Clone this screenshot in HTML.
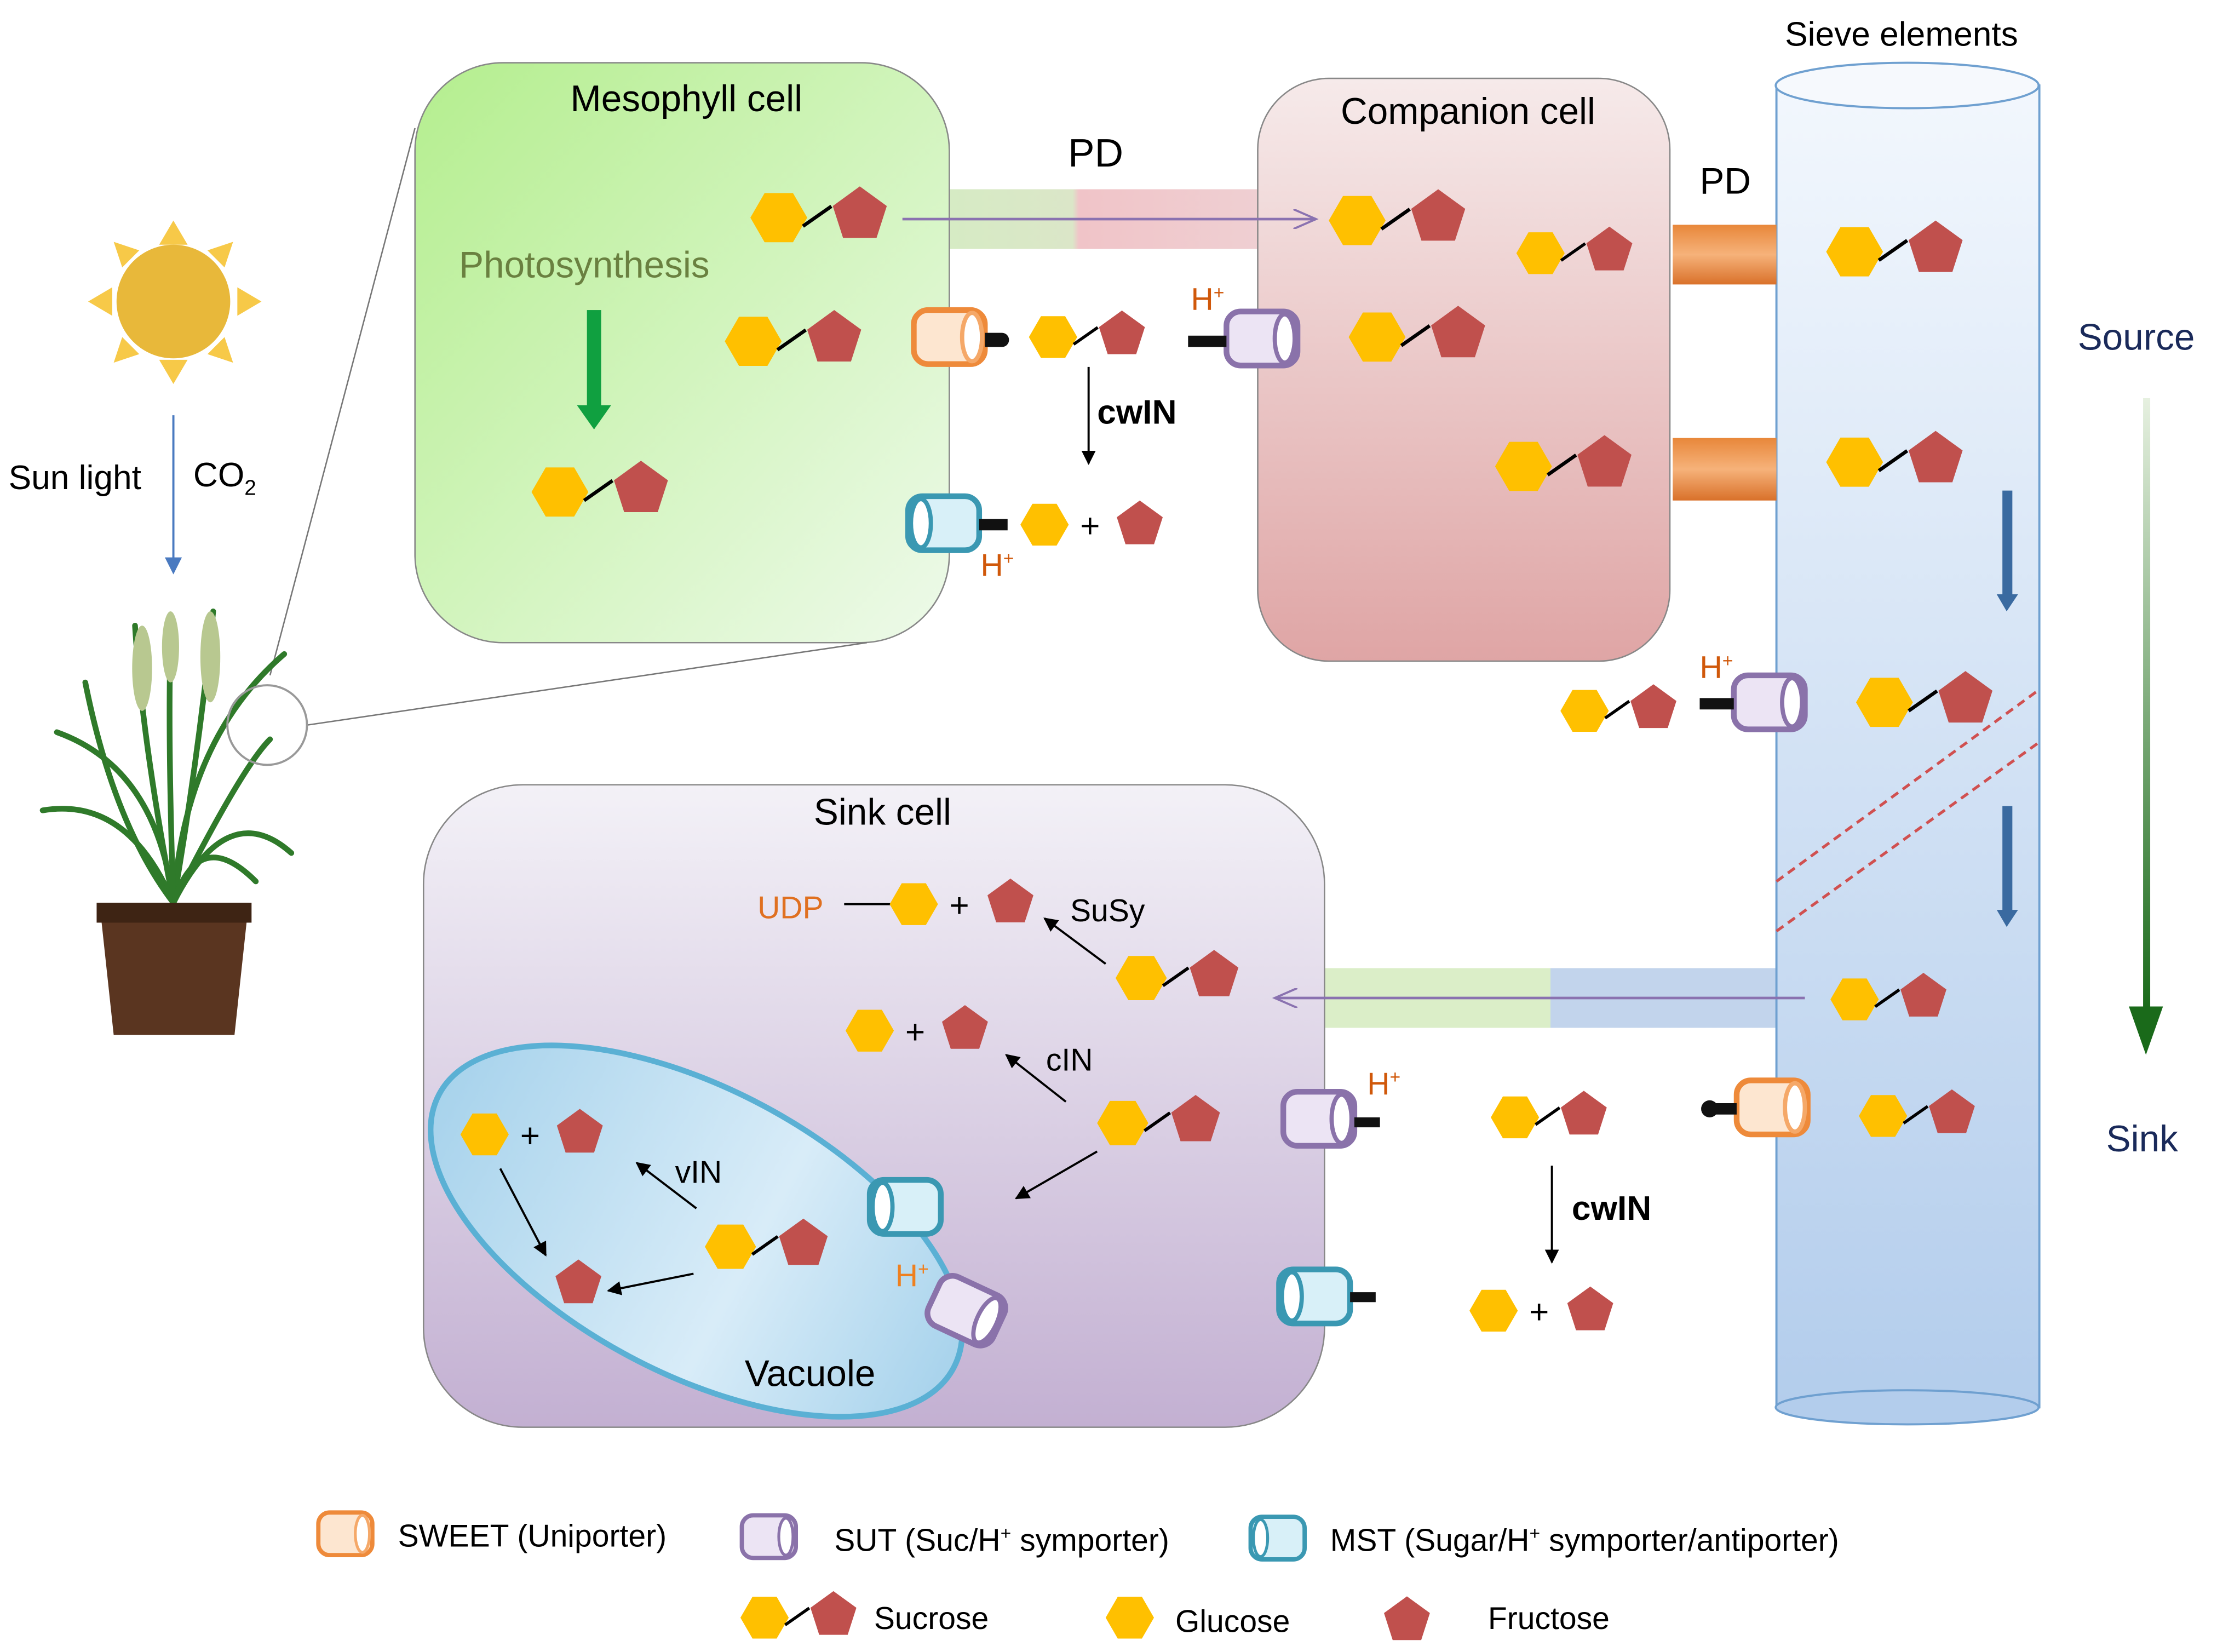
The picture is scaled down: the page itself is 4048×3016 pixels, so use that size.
<!DOCTYPE html>
<html><head><meta charset="utf-8"><style>
html,body{margin:0;padding:0;background:#fff}
svg{display:block}
text{font-family:"Liberation Sans",Arial,sans-serif}
</style></head><body>
<svg width="4048" height="3016" viewBox="0 0 1560 1162" xmlns="http://www.w3.org/2000/svg">
<defs>
<linearGradient id="gMes" x1="0" y1="0" x2="1" y2="1"><stop offset="0" stop-color="#b4ee8e"/><stop offset="1" stop-color="#eefaea"/></linearGradient>
<linearGradient id="gComp" x1="0" y1="0" x2="0" y2="1"><stop offset="0" stop-color="#f6eaea"/><stop offset="1" stop-color="#dfa5a5"/></linearGradient>
<linearGradient id="gSink" x1="0" y1="0" x2="0" y2="1"><stop offset="0" stop-color="#f3f1f7"/><stop offset="1" stop-color="#c3b0d2"/></linearGradient>
<linearGradient id="gSieve" x1="0" y1="0" x2="0" y2="1"><stop offset="0" stop-color="#f2f7fd"/><stop offset="1" stop-color="#b3cdec"/></linearGradient>
<linearGradient id="gVac" x1="0" y1="0" x2="1" y2="0"><stop offset="0" stop-color="#a8d3ec"/><stop offset="0.6" stop-color="#d8ecf8"/><stop offset="1" stop-color="#a8d3ec"/></linearGradient>
<linearGradient id="pd1" x1="0" y1="0" x2="1" y2="0"><stop offset="0" stop-color="#d6ebc4"/><stop offset="0.4" stop-color="#dbe6c8"/><stop offset="0.42" stop-color="#f0c4c8"/><stop offset="1" stop-color="#efcfd2"/></linearGradient>
<linearGradient id="pd2" x1="0" y1="0" x2="1" y2="0"><stop offset="0" stop-color="#dbeec8"/><stop offset="0.5" stop-color="#dbeec8"/><stop offset="0.5" stop-color="#c2d4ec"/><stop offset="1" stop-color="#c2d4ec"/></linearGradient>
<linearGradient id="pdo" x1="0" y1="0" x2="0" y2="1"><stop offset="0" stop-color="#e8873a"/><stop offset="0.5" stop-color="#f6b27a"/><stop offset="1" stop-color="#d9712a"/></linearGradient>
<linearGradient id="src" x1="0" y1="0" x2="0" y2="1"><stop offset="0" stop-color="#e6f0e0"/><stop offset="1" stop-color="#1a6a1a"/></linearGradient>
<polygon id="hex" points="20,0 10,17.3 -10,17.3 -20,0 -10,-17.3 10,-17.3" fill="#ffc000"/>
<polygon id="pen" points="0,-20 19,-6.2 11.8,16.2 -11.8,16.2 -19,-6.2" fill="#c0504d"/>
<g id="suc"><use href="#hex"/><line x1="17" y1="6" x2="37" y2="-8" stroke="#000" stroke-width="2.5"/><use href="#pen" x="57" y="-2"/></g>
<g id="cylO"><rect x="-25" y="-19" width="50" height="38" rx="10" fill="#fde6d0" stroke="#ee8a3a" stroke-width="4"/><ellipse cx="16" cy="0" rx="7" ry="17" fill="#fff" stroke="#f5a868" stroke-width="3"/></g>
<g id="cylP"><rect x="-25" y="-19" width="50" height="38" rx="10" fill="#ece4f4" stroke="#8a72aa" stroke-width="4"/><ellipse cx="16" cy="0" rx="7" ry="17" fill="#fff" stroke="#8a72aa" stroke-width="3"/></g>
<g id="cylT"><rect x="-25" y="-19" width="50" height="38" rx="10" fill="#d8f0f8" stroke="#3a98b2" stroke-width="4"/><ellipse cx="-16" cy="0" rx="7" ry="17" fill="#fff" stroke="#3a98b2" stroke-width="3"/></g>
<marker id="ak" markerWidth="10" markerHeight="10" refX="9" refY="5" orient="auto" markerUnits="userSpaceOnUse"><path d="M0,0 L10,5 L0,10 z" fill="#000"/></marker>
<marker id="ab" markerWidth="12" markerHeight="12" refX="10" refY="6" orient="auto" markerUnits="userSpaceOnUse"><path d="M0,0 L12,6 L0,12 z" fill="#4a7ac0"/></marker>
<marker id="ap" markerWidth="18" markerHeight="14" refX="16" refY="7" orient="auto" markerUnits="userSpaceOnUse"><path d="M0,0 L16,7 L0,14" fill="none" stroke="#8a72b0" stroke-width="1.5"/></marker>
</defs>

<!-- connectors behind -->
<rect x="668" y="133" width="217" height="42" fill="url(#pd1)"/>
<rect x="932" y="681" width="318" height="42" fill="url(#pd2)"/>

<!-- mesophyll -->
<rect x="292" y="44" width="376" height="408" rx="62" fill="url(#gMes)" stroke="#888" stroke-width="1"/>
<!-- companion -->
<rect x="885" y="55" width="290" height="410" rx="50" fill="url(#gComp)" stroke="#888" stroke-width="1"/>
<!-- sink -->
<rect x="298" y="552" width="634" height="452" rx="70" fill="url(#gSink)" stroke="#888" stroke-width="1"/>
<!-- sieve -->
<rect x="1250" y="60" width="185" height="930" fill="url(#gSieve)" stroke="#6fa0d0" stroke-width="1.5"/>
<ellipse cx="1342" cy="990" rx="92.5" ry="12" fill="#b3cdec" stroke="#6fa0d0" stroke-width="1.5"/>
<ellipse cx="1342" cy="60" rx="92.5" ry="16" fill="#f6f9fd" stroke="#6fa0d0" stroke-width="1.5"/>
<line x1="1250" y1="620" x2="1435" y2="485" stroke="#d05050" stroke-width="2" stroke-dasharray="6,4"/>
<line x1="1250" y1="655" x2="1435" y2="522" stroke="#d05050" stroke-width="2" stroke-dasharray="6,4"/>
<!-- PD orange -->
<rect x="1177" y="158" width="73" height="42" fill="url(#pdo)"/>
<rect x="1177" y="308" width="73" height="44" fill="url(#pdo)"/>

<!-- vacuole -->
<ellipse cx="490" cy="866" rx="205" ry="100" transform="rotate(28 490 866)" fill="url(#gVac)" stroke="#5ab0d4" stroke-width="4"/>

<!-- zoom lines -->
<line x1="292" y1="90" x2="190" y2="475" stroke="#777" stroke-width="1"/>
<line x1="610" y1="452" x2="216" y2="510" stroke="#777" stroke-width="1"/>

<!-- sun -->
<g fill="#f7c948">
<polygon points="122,155 112,172 132,172"/><polygon points="122,270 112,253 132,253"/>
<polygon points="62,212 79,202 79,222"/><polygon points="184,212 167,202 167,222"/>
<polygon points="80,170 98,176 86,188"/><polygon points="164,170 146,176 158,188"/>
<polygon points="80,255 98,249 86,237"/><polygon points="164,255 146,249 158,237"/>
</g>
<circle cx="122" cy="212" r="40" fill="#e8b83a"/>
<line x1="122" y1="292" x2="122" y2="402" stroke="#4a7ac0" stroke-width="1.5" marker-end="url(#ab)"/>
<text x="6" y="344" font-size="24">Sun light</text>
<text x="136" y="342" font-size="24">CO<tspan font-size="15" dy="6">2</tspan></text>

<!-- plant -->
<g stroke="#2f7a2a" stroke-width="4" fill="none" stroke-linecap="round">
<path d="M122,635 Q110,540 40,515"/><path d="M122,635 Q130,520 200,460"/>
<path d="M122,635 Q100,520 95,440"/><path d="M122,635 Q140,530 150,430"/>
<path d="M122,635 Q90,560 30,570"/><path d="M122,635 Q160,560 205,600"/>
<path d="M122,635 Q118,520 120,450"/><path d="M122,635 Q80,580 60,480"/>
<path d="M122,635 Q170,540 190,520"/><path d="M122,635 Q140,580 180,620"/>
</g>
<g fill="#b8c890"><ellipse cx="100" cy="470" rx="7" ry="30"/><ellipse cx="148" cy="462" rx="7" ry="32"/><ellipse cx="120" cy="455" rx="6" ry="25"/></g>
<circle cx="188" cy="510" r="28" fill="none" stroke="#999" stroke-width="1.5"/>
<path d="M70,635 L175,635 L165,728 L80,728 Z" fill="#5a3520"/>
<rect x="68" y="635" width="109" height="14" fill="#3e2414"/>

<!-- labels -->
<text x="483" y="78" font-size="26" text-anchor="middle">Mesophyll cell</text>
<text x="1033" y="87" font-size="26" text-anchor="middle">Companion cell</text>
<text x="1338" y="32" font-size="24" text-anchor="middle">Sieve elements</text>
<text x="621" y="580" font-size="26" text-anchor="middle">Sink cell</text>
<text x="570" y="975" font-size="26" text-anchor="middle">Vacuole</text>
<text x="771" y="117" font-size="28" text-anchor="middle">PD</text>
<text x="1214" y="136" font-size="26" text-anchor="middle">PD</text>
<text x="323" y="195" font-size="26" fill="#6a8040">Photosynthesis</text>
<rect x="413" y="218" width="10" height="70" fill="#10a040"/>
<polygon points="406,285 430,285 418,302" fill="#10a040"/>
<text x="1462" y="246" font-size="26" fill="#1a2a5a">Source</text>
<text x="1482" y="810" font-size="26" fill="#1a2a5a">Sink</text>
<rect x="1508" y="280" width="5" height="430" fill="url(#src)"/>
<polygon points="1498,708 1522,708 1510,742" fill="#1a6a1a"/>
<rect x="1409" y="345" width="7" height="75" fill="#3a6aa0"/><polygon points="1405,418 1420,418 1412,430" fill="#3a6aa0"/>
<rect x="1409" y="567" width="7" height="75" fill="#3a6aa0"/><polygon points="1405,640 1420,640 1412,652" fill="#3a6aa0"/>

<!-- transport arrows -->
<line x1="635" y1="154" x2="926" y2="154" stroke="#8a72b0" stroke-width="1.8" marker-end="url(#ap)"/>
<line x1="1270" y1="702" x2="897" y2="702" stroke="#8a72b0" stroke-width="1.8" marker-end="url(#ap)"/>

<!-- transporters -->
<use href="#cylO" x="668" y="237"/><path d="M693,234 h12 a5,5 0 0 1 0,10 h-12z" fill="#111"/>
<use href="#cylP" x="888" y="238"/><rect x="836" y="236" width="27" height="8" fill="#111"/>
<use href="#cylT" x="664" y="368"/><rect x="689" y="365" width="20" height="8" fill="#111"/>
<use href="#cylP" x="1245" y="494"/><rect x="1196" y="491" width="24" height="8" fill="#111"/>
<use href="#cylO" x="1247" y="779"/><rect x="1200" y="776" width="22" height="8" fill="#111"/><circle cx="1203" cy="780" r="6" fill="#111"/>
<use href="#cylP" x="928" y="787"/><rect x="953" y="786" width="18" height="7" fill="#111"/>
<use href="#cylT" x="925" y="912"/><rect x="950" y="909" width="18" height="7" fill="#111"/>
<use href="#cylT" x="637" y="849"/>
<use href="#cylP" transform="translate(680 922) rotate(25)"/>
<g fill="#d0580a" font-size="22">
<text x="838" y="218">H<tspan font-size="13" dy="-8">+</tspan></text>
<text x="690" y="405">H<tspan font-size="13" dy="-8">+</tspan></text>
<text x="1196" y="477">H<tspan font-size="13" dy="-8">+</tspan></text>
<text x="962" y="770">H<tspan font-size="13" dy="-8">+</tspan></text>
<text x="630" y="905" fill="#ee8020">H<tspan font-size="13" dy="-8">+</tspan></text>
</g>

<!-- sugars -->
<use href="#suc" x="548" y="153"/><use href="#suc" x="530" y="240"/><use href="#suc" x="394" y="346"/>
<use href="#suc" transform="translate(741 237) scale(0.85)"/>
<use href="#hex" transform="translate(735 369) scale(0.85)"/><text x="767" y="378" font-size="24" text-anchor="middle">+</text><use href="#pen" transform="translate(802 369) scale(0.85)"/>
<line x1="766" y1="258" x2="766" y2="326" stroke="#000" stroke-width="1.5" marker-end="url(#ak)"/>
<text x="772" y="298" font-size="24" font-weight="bold">cwIN</text>
<use href="#suc" x="955" y="155"/><use href="#suc" transform="translate(1084 178) scale(0.85)"/><use href="#suc" x="969" y="237"/><use href="#suc" x="1072" y="328"/>
<use href="#suc" x="1305" y="177"/><use href="#suc" x="1305" y="325"/><use href="#suc" x="1326" y="494"/><use href="#suc" transform="translate(1305 703) scale(0.85)"/><use href="#suc" transform="translate(1325 785) scale(0.85)"/>
<use href="#suc" transform="translate(1115 500) scale(0.85)"/>
<use href="#suc" transform="translate(1066 786) scale(0.85)"/>
<line x1="1092" y1="820" x2="1092" y2="888" stroke="#000" stroke-width="1.5" marker-end="url(#ak)"/>
<text x="1106" y="858" font-size="24" font-weight="bold">cwIN</text>
<use href="#hex" transform="translate(1051 922) scale(0.85)"/><text x="1083" y="931" font-size="24" text-anchor="middle">+</text><use href="#pen" transform="translate(1119 922) scale(0.85)"/>

<!-- sink interior -->
<text x="533" y="646" font-size="22" fill="#e07020">UDP</text>
<line x1="594" y1="636" x2="628" y2="636" stroke="#000" stroke-width="1.5"/>
<use href="#hex" transform="translate(643 636) scale(0.85)"/><text x="675" y="645" font-size="24" text-anchor="middle">+</text><use href="#pen" transform="translate(711 635) scale(0.85)"/>
<line x1="778" y1="678" x2="735" y2="646" stroke="#000" stroke-width="1.5" marker-end="url(#ak)"/>
<text x="753" y="648" font-size="22">SuSy</text>
<use href="#suc" transform="translate(803 688) scale(0.9)"/>
<use href="#hex" transform="translate(612 725) scale(0.85)"/><text x="644" y="734" font-size="24" text-anchor="middle">+</text><use href="#pen" transform="translate(679 724) scale(0.85)"/>
<line x1="750" y1="775" x2="708" y2="742" stroke="#000" stroke-width="1.5" marker-end="url(#ak)"/>
<text x="736" y="753" font-size="22">cIN</text>
<use href="#suc" transform="translate(790 790) scale(0.9)"/>
<line x1="772" y1="810" x2="715" y2="843" stroke="#000" stroke-width="1.5" marker-end="url(#ak)"/>
<use href="#hex" transform="translate(341 798) scale(0.85)"/><text x="373" y="807" font-size="24" text-anchor="middle">+</text><use href="#pen" transform="translate(408 797) scale(0.85)"/>
<line x1="490" y1="850" x2="448" y2="818" stroke="#000" stroke-width="1.5" marker-end="url(#ak)"/>
<text x="475" y="832" font-size="22">vIN</text>
<use href="#suc" transform="translate(514 877) scale(0.9)"/>
<line x1="352" y1="822" x2="384" y2="883" stroke="#000" stroke-width="1.5" marker-end="url(#ak)"/>
<line x1="488" y1="896" x2="428" y2="908" stroke="#000" stroke-width="1.5" marker-end="url(#ak)"/>
<use href="#pen" transform="translate(407 903) scale(0.85)"/>

<!-- legend -->
<g transform="translate(243 1079)"><rect x="-19" y="-15" width="38" height="30" rx="8" fill="#fde6d0" stroke="#ee8a3a" stroke-width="3"/><ellipse cx="12" cy="0" rx="5" ry="13" fill="#fff" stroke="#f5a868" stroke-width="2"/></g>
<text x="280" y="1088" font-size="22">SWEET (Uniporter)</text>
<g transform="translate(541 1081)"><rect x="-19" y="-15" width="38" height="30" rx="8" fill="#ece4f4" stroke="#8a72aa" stroke-width="3"/><ellipse cx="12" cy="0" rx="5" ry="13" fill="#fff" stroke="#8a72aa" stroke-width="2"/></g>
<text x="587" y="1091" font-size="22">SUT (Suc/H<tspan font-size="13" dy="-8">+</tspan><tspan dy="8"> symporter)</tspan></text>
<g transform="translate(899 1082)"><rect x="-19" y="-15" width="38" height="30" rx="8" fill="#d8f0f8" stroke="#3a98b2" stroke-width="3"/><ellipse cx="-12" cy="0" rx="5" ry="13" fill="#fff" stroke="#3a98b2" stroke-width="2"/></g>
<text x="936" y="1091" font-size="22">MST (Sugar/H<tspan font-size="13" dy="-8">+</tspan><tspan dy="8"> symporter/antiporter)</tspan></text>
<use href="#suc" transform="translate(538 1138) scale(0.85)"/>
<text x="615" y="1146" font-size="22">Sucrose</text>
<use href="#hex" transform="translate(795 1138) scale(0.85)"/>
<text x="827" y="1148" font-size="22">Glucose</text>
<use href="#pen" transform="translate(990 1140) scale(0.85)"/>
<text x="1047" y="1146" font-size="22">Fructose</text>
</svg>
</body></html>
